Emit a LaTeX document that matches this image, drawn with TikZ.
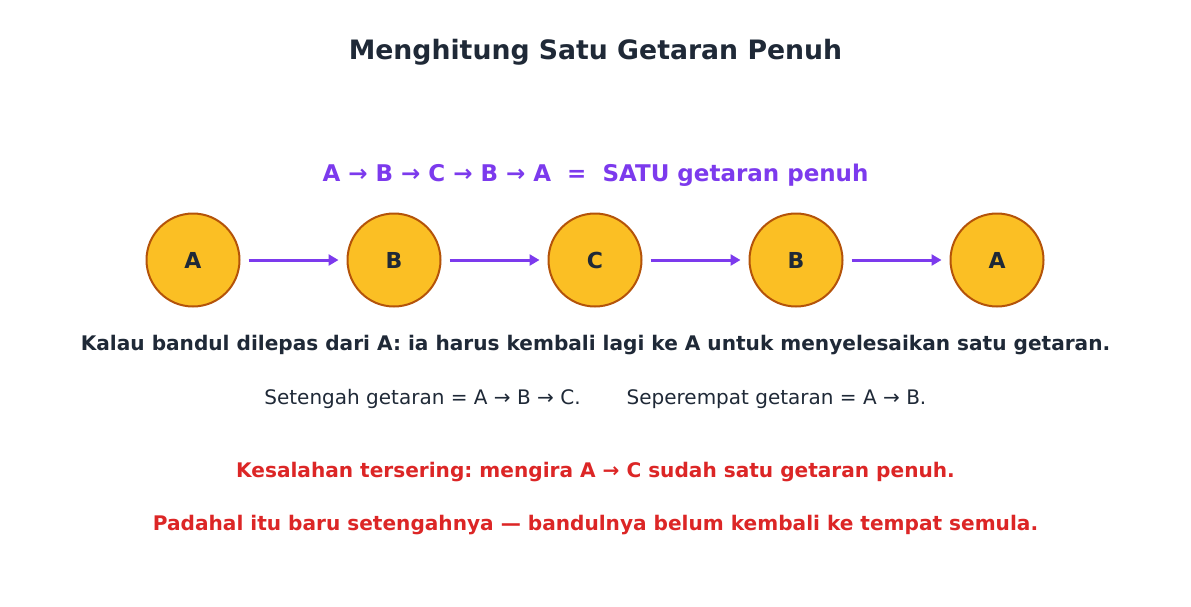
\documentclass[tikz,border=0pt]{standalone}
\usepackage{fontspec}
\setmainfont{DejaVu Sans}
\usetikzlibrary{arrows.meta}
\definecolor{inkdark}{HTML}{1F2937}
\definecolor{violet}{HTML}{7C3AED}
\definecolor{amberfill}{HTML}{FBBF24}
\definecolor{amberline}{HTML}{B45309}
\definecolor{warnred}{HTML}{DC2626}
\frenchspacing
\tikzset{
  posbox/.style={circle, draw=amberline, fill=amberfill, line width=2pt,
    minimum size=93pt, inner sep=0pt, font=\fontsize{22}{26}\selectfont\bfseries, text=inkdark},
  steparrow/.style={draw=violet, line width=3pt, -{Triangle[length=10pt,width=11pt]}},
  txt/.style={inner sep=0pt, anchor=center}
}
\begin{document}
\begin{tikzpicture}[x=1pt,y=-1pt]
\useasboundingbox (0,0) rectangle (1191,606);
\fill[white] (0,0) rectangle (1191,606);

% title
\node[txt, font=\fontsize{26.7}{30}\selectfont\bfseries, text=inkdark] (title) at (595.5,52.5) {Menghitung Satu Getaran Penuh};

% summary
\node[txt, font=\fontsize{23}{27}\selectfont\bfseries, text=violet] (summary) at (595.5,175) {A → B → C → B → A \ = \ SATU getaran penuh};

% positions of the pendulum
\node[posbox] (p1) at (193,260) {A};
\node[posbox] (p2) at (394,260) {B};
\node[posbox] (p3) at (595,260) {C};
\node[posbox] (p4) at (796,260) {B};
\node[posbox] (p5) at (997,260) {A};
\foreach \a/\b in {p1/p2,p2/p3,p3/p4,p4/p5}
  \draw[steparrow, shorten <=8pt, shorten >=8pt] (\a) -- (\b);

% explanation
\node[txt, font=\fontsize{20.1}{24}\selectfont\bfseries, text=inkdark] (rule) at (595.5,345) {Kalau bandul dilepas dari A: ia harus kembali lagi ke A untuk menyelesaikan satu getaran.};
\node[txt, anchor=base, font=\fontsize{20}{24}\selectfont, text=inkdark] (half) at (422.5,404.5) {Setengah getaran = A → B → C.};
\node[txt, anchor=base, font=\fontsize{20}{24}\selectfont, text=inkdark] (quarter) at (776.5,404.5) {Seperempat getaran = A → B.};

% common mistake
\node[txt, font=\fontsize{20.1}{24}\selectfont\bfseries, text=warnred] (mistake) at (595.5,472.5) {Kesalahan tersering: mengira A → C sudah satu getaran penuh.};
\node[txt, font=\fontsize{20.1}{24}\selectfont\bfseries, text=warnred] (actually) at (595.5,525.5) {Padahal itu baru setengahnya — bandulnya belum kembali ke tempat semula.};
\end{tikzpicture}
\end{document}
